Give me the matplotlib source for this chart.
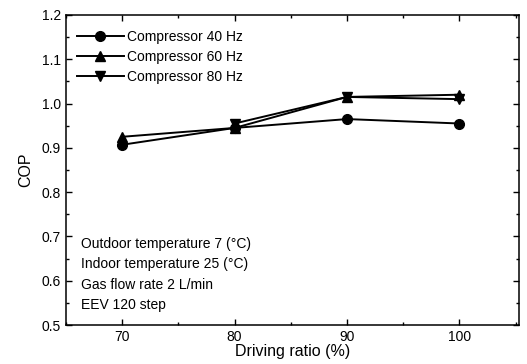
import numpy as np
import matplotlib
matplotlib.use('Agg')
import matplotlib.pyplot as plt
from matplotlib.ticker import MultipleLocator

plt.rcParams['font.family'] = ['Liberation Sans', 'DejaVu Sans']

# data
ratio = [70, 80, 90, 100]
cop_40 = [0.907, 0.945, 0.965, 0.955]
cop_60 = [0.925, 0.945, 1.015, 1.020]
cop_80 = [np.nan, 0.955, 1.015, 1.010]
labels = ["Compressor 40 Hz", "Compressor 60 Hz", "Compressor 80 Hz"]
notes = ["Outdoor temperature 7 (\u00b0C)", "Indoor temperature 25 (\u00b0C)",
         "Gas flow rate 2 L/min", "EEV 120 step"]

fig = plt.figure(figsize=(5.27, 3.64), dpi=100)
ax = fig.add_axes([0.1252, 0.1071, 0.8596, 0.8517])

ax.plot(ratio, cop_40, color='black', lw=1.4, marker='o', ms=7, label=labels[0])
ax.plot(ratio, cop_60, color='black', lw=1.4, marker='^', ms=7, label=labels[1])
ax.plot(ratio, cop_80, color='black', lw=1.4, marker='v', ms=7, label=labels[2])

ax.set_xlim(65, 105.3)
ax.set_ylim(0.5, 1.2)
ax.xaxis.set_major_locator(MultipleLocator(10))
ax.xaxis.set_minor_locator(MultipleLocator(5))
ax.yaxis.set_major_locator(MultipleLocator(0.1))
ax.yaxis.set_minor_locator(MultipleLocator(0.05))
ax.yaxis.set_major_formatter(matplotlib.ticker.FormatStrFormatter('%.1f'))
ax.tick_params(which='both', direction='in', top=True, right=True, labelsize=10)
ax.tick_params(which='major', length=4, width=1)
ax.tick_params(which='minor', length=2.5, width=1)
for s in ax.spines.values():
    s.set_linewidth(1.1)

ax.set_xlabel("Driving ratio (%)", fontsize=11.5, labelpad=0)
ax.set_ylabel("COP", fontsize=11.5, labelpad=6)

leg = ax.legend(loc='upper left', frameon=False, fontsize=10, handlelength=3.4,
                handletextpad=0.2, labelspacing=0.45, borderaxespad=0.2,
                bbox_to_anchor=(0.005, 0.98))

for i, t in enumerate(notes):
    ax.text(0.033, 0.262 - i * 0.066, t, transform=ax.transAxes,
            fontsize=10, va='center', ha='left')

fig.savefig("out.png", dpi=100)
